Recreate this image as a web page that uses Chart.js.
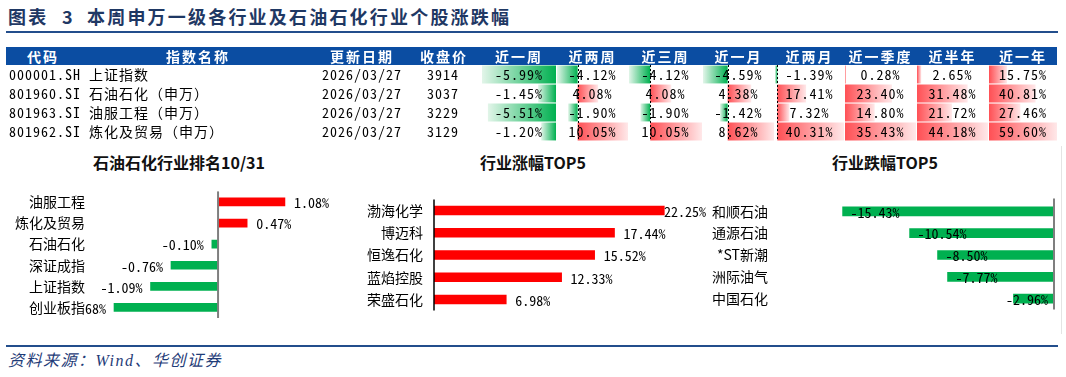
<!DOCTYPE html>
<html><head><meta charset="utf-8">
<script src="https://cdn.jsdelivr.net/npm/chart.js@4.4.1/dist/chart.umd.min.js"></script>
<style>
html,body{margin:0;padding:0;background:#fff;}
body{width:1066px;height:377px;position:relative;overflow:hidden;font-family:"Noto Sans CJK SC","Noto Sans",sans-serif;}
.abs{position:absolute;white-space:nowrap;}
.ttl{color:#1F3864;font-weight:bold;font-size:18px;line-height:22px;top:5px;letter-spacing:2.2px;}
.hline{position:absolute;background:#234E8C;}
.hdr{position:absolute;left:6px;top:47px;width:1051px;height:18px;background:#0B4DA2;}
.ht{position:absolute;top:47px;height:18px;line-height:18px;color:#fff;font-size:14px;font-weight:bold;letter-spacing:2px;text-align:center;z-index:3;}
.cell{position:absolute;height:19px;line-height:19px;font-size:14px;color:#000;letter-spacing:1px;z-index:3;white-space:nowrap;font-family:"Noto Sans Mono CJK SC","Noto Sans CJK SC",sans-serif;}
.ctitle{position:absolute;top:151px;height:22px;line-height:22px;font-size:16px;font-weight:bold;color:#111;text-align:center;}
canvas{position:absolute;}
.src{position:absolute;left:8px;top:350px;font-size:16px;line-height:22px;color:#1F3C78;font-style:italic;letter-spacing:1.5px;font-family:"Liberation Serif","Noto Sans CJK SC",serif;}
</style></head>
<body>
<div class="abs ttl" style="left:8px;">图表</div>
<div class="abs ttl" style="left:62px;">3</div>
<div class="abs ttl" style="left:87px;">本周申万一级各行业及石油石化行业个股涨跌幅</div>
<div class="hline" style="left:6px;top:31px;width:1052px;height:2px;"></div>
<div class="hdr"></div>
<div id="tbl"></div>
<div class="ctitle" style="left:79px;width:200px;">石油石化行业排名10/31</div>
<div class="ctitle" style="left:433px;width:200px;">行业涨幅TOP5</div>
<div class="ctitle" style="left:785px;width:200px;">行业跌幅TOP5</div>
<canvas id="c1" width="350" height="150" style="left:5px;top:180px;"></canvas>
<canvas id="c2" width="355" height="150" style="left:355px;top:180px;"></canvas>
<canvas id="c3" width="352" height="150" style="left:710px;top:180px;"></canvas>
<div class="hline" style="left:1061px;top:146px;width:1px;height:188px;background:#e4e4e4;"></div>
<div class="hline" style="left:6px;top:345px;width:1052px;height:2px;"></div>
<div class="src">资料来源：Wind、华创证券</div>
<script>
// ---------- data ----------
const tableHeaders = ["代码","指数名称","更新日期","收盘价"];
const periodHeaders = ["近一周","近两周","近三周","近一月","近两月","近一季度","近半年","近一年"];
const tableCodes = ["000001.SH","801960.SI","801963.SI","801962.SI"];
const tableNames = ["上证指数","石油石化（申万）","油服工程（申万）","炼化及贸易（申万）"];
const tableDates = ["2026/03/27","2026/03/27","2026/03/27","2026/03/27"];
const tableClose = [3914,3037,3229,3129];
const chg1w = [-5.99,-1.45,-5.51,-1.20];
const chg2w = [-4.12,4.08,-1.90,10.05];
const chg3w = [-4.12,4.08,-1.90,10.05];
const chg1m = [-4.59,4.38,-1.42,8.62];
const chg2m = [-1.39,17.41,7.32,40.31];
const chg1q = [0.28,23.40,14.80,35.43];
const chg6m = [2.65,31.48,21.72,44.18];
const chg1y = [15.75,40.81,27.46,59.60];

const rankCategories = ["油服工程","炼化及贸易","石油石化","深证成指","上证指数","创业板指"];
const rankValues = [1.08,0.47,-0.10,-0.76,-1.09,-1.68];
const gainCategories = ["渤海化学","博迈科","恒逸石化","蓝焰控股","荣盛石化"];
const gainValues = [22.25,17.44,15.52,12.33,6.98];
const lossCategories = ["和顺石油","通源石油","*ST新潮","洲际油气","中国石化"];
const lossValues = [-15.43,-10.54,-8.50,-7.77,-2.96];

// ---------- layout ----------
const FONT = '"Noto Sans CJK SC","Noto Sans",sans-serif';
const MONO = '"Noto Sans Mono CJK SC","Noto Sans CJK SC",sans-serif';
const RED = '#FF0000', GREEN = '#00B050';
const periodSeries = [chg1w,chg2w,chg3w,chg1m,chg2m,chg1q,chg6m,chg1y];
const colStarts = [482,557,629,703,775,845,917,989,1058];
const rowTop = 65, rowH = 19;
const tbl = document.getElementById('tbl');
function addDiv(cls, style, text){const d=document.createElement('div');d.className=cls;d.setAttribute('style',style);d.textContent=text;tbl.appendChild(d);return d;}

const hdrCenters = [43,198,362,444];
tableHeaders.forEach((h,i)=>addDiv('ht',`left:${hdrCenters[i]-60}px;width:120px;`,h));
periodHeaders.forEach((h,i)=>{const l=colStarts[i],w=colStarts[i+1]-l-1;addDiv('ht',`left:${l}px;width:${w}px;`,h);});

for(let r=0;r<tableCodes.length;r++){
  const top=rowTop+r*rowH;
  addDiv('cell',`left:9px;top:${top}px;`,tableCodes[r]+' '+tableNames[r]);
  addDiv('cell',`left:312px;width:100px;text-align:center;top:${top}px;`,tableDates[r]);
  addDiv('cell',`left:413px;width:60px;text-align:center;top:${top}px;`,String(tableClose[r]));
  periodSeries.forEach((s,i)=>{const l=colStarts[i],w=colStarts[i+1]-l-1;
    addDiv('cell',`left:${l}px;width:${w}px;text-align:center;top:${top}px;`,s[r].toFixed(2)+'%');});
}

function barGradient(c){
  const chart=c.chart, xs=chart.scales.x;
  const v=c.raw;
  const solid = v>=0?'rgb(255,80,85)':'rgb(0,176,80)';
  const light = v>=0?'rgb(255,232,233)':'rgb(226,245,233)';
  if(!xs || !chart.chartArea) return solid;
  const b=xs.getPixelForValue(0), t=xs.getPixelForValue(v);
  if(Math.abs(t-b)<1) return solid;
  const g=chart.ctx.createLinearGradient(b,0,t,0);
  g.addColorStop(0,solid); g.addColorStop(1,light);
  return g;
}
const dashAxis = {id:'dashAxis', afterDatasetsDraw(chart){
  const xs=chart.scales.x; if(!(xs.min<0 && xs.max>0)) return;
  const x=Math.round(xs.getPixelForValue(0))+0.5, ctx=chart.ctx;
  ctx.save(); ctx.strokeStyle='#000'; ctx.lineWidth=1; ctx.setLineDash([2,2]);
  ctx.beginPath(); ctx.moveTo(x,0); ctx.lineTo(x,chart.height); ctx.stroke(); ctx.restore();
}};
periodSeries.forEach((s,i)=>{
  const l=colStarts[i], w=colStarts[i+1]-l-1;
  const cv=document.createElement('canvas');
  cv.width=w; cv.height=rowH*s.length;
  cv.style.left=l+'px'; cv.style.top=rowTop+'px';
  document.body.appendChild(cv);
  new Chart(cv,{type:'bar',
    data:{labels:s.map((_,k)=>k),datasets:[{data:s,backgroundColor:barGradient,borderWidth:0,categoryPercentage:1,barPercentage:0.94}]},
    options:{indexAxis:'y',responsive:false,animation:false,events:[],layout:{padding:0},
      plugins:{legend:{display:false},tooltip:{enabled:false}},
      scales:{x:{display:false,min:Math.min(0,...s),max:Math.max(0,...s)},y:{display:false}}},
    plugins:[dashAxis]});
});

function makeHBar(id, cats, vals, o){
  const labelPlugin={id:'lbl'+id, afterDatasetsDraw(chart){
    const ctx=chart.ctx, meta=chart.getDatasetMeta(0), ca=chart.chartArea;
    ctx.save();
    ctx.beginPath(); ctx.rect(ca.left-3,0,chart.width,chart.height); ctx.clip();
    ctx.font='14px '+MONO; ctx.fillStyle='#000'; ctx.textBaseline='middle'; ctx.textAlign='left';
    meta.data.forEach((el,k)=>{
      const v=vals[k], txt=v.toFixed(2)+'%', w=ctx.measureText(txt).width;
      let left;
      if(o.mode==='inside'){ left=el.x+8; if(left+w>el.base-6) left=el.base-6-w; }
      else if(v>=0){ left=el.x+9; if(o.maxRight && left+w>o.maxRight) left=o.maxRight-w; }
      else { left=el.x-8-w; }
      ctx.fillText(txt,left,el.y+1);
    });
    ctx.restore();
    const x0=chart.scales.x.getPixelForValue(0);
    ctx.save(); ctx.strokeStyle=o.axisColor; ctx.lineWidth=o.axisWidth;
    ctx.beginPath(); ctx.moveTo(x0,ca.top-o.axisExt); ctx.lineTo(x0,ca.bottom); ctx.stroke(); ctx.restore();
  }};
  new Chart(document.getElementById(id),{type:'bar',
    data:{labels:cats,datasets:[{data:vals,backgroundColor:vals.map(v=>v>=0?RED:GREEN),borderWidth:0,barThickness:o.thick}]},
    options:{indexAxis:'y',responsive:false,animation:false,events:[],
      layout:{padding:{top:10,bottom:12,left:0,right:o.padRight}},
      plugins:{legend:{display:false},tooltip:{enabled:false}},
      scales:{
        x:{display:false,min:o.min,max:o.max},
        y:{grid:{display:false,drawTicks:false},border:{display:false},
           ticks:{padding:o.tickPad,color:'#000',font:{family:FONT,size:14}},
           afterFit:s=>{s.width=o.yWidth;}}
      }},
    plugins:[labelPlugin]});
}
makeHBar('c1',rankCategories,rankValues,{min:-2.1,max:2.05,yWidth:83,tickPad:3,padRight:10,thick:8,axisColor:'#7f7f7f',axisWidth:2,axisExt:0,mode:'outside'});
makeHBar('c2',gainCategories,gainValues,{min:0,max:25.7,yWidth:79,tickPad:11,padRight:10,thick:9,axisColor:'#000',axisWidth:1.5,axisExt:0,mode:'outside',maxRight:351});
makeHBar('c3',lossCategories,lossValues,{min:-20,max:0,yWidth:70,tickPad:12,padRight:8,thick:9,axisColor:'#7f7f7f',axisWidth:2,axisExt:2,mode:'inside'});
</script>
</body></html>
